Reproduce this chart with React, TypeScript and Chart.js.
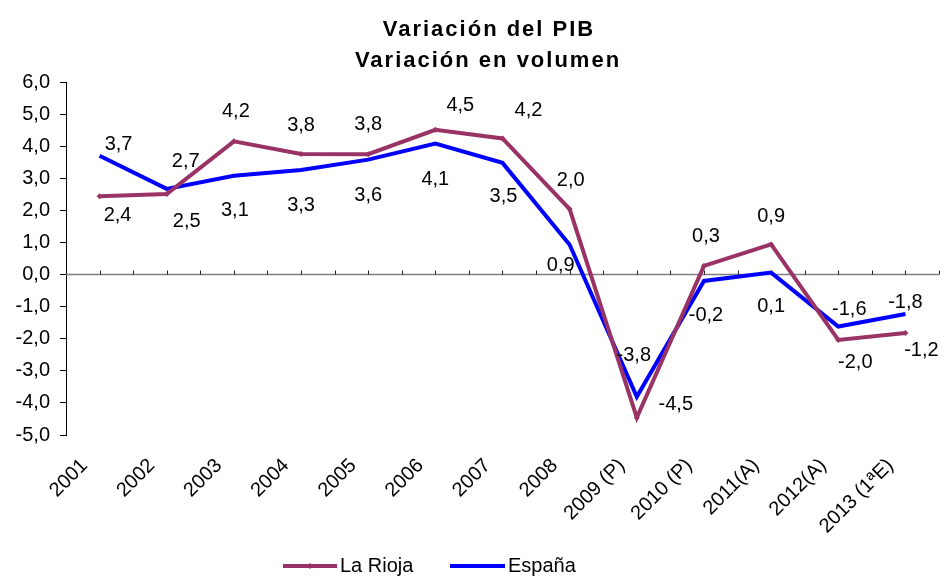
import React, { useEffect, useRef } from 'react';
import { Chart, registerables } from 'chart.js';

Chart.register(...registerables);

const FONT = '"Liberation Sans", Arial, Helvetica, sans-serif';

const titleLines = ['Variación del PIB', 'Variación en volumen'];

const categories = [
  '2001', '2002', '2003', '2004', '2005', '2006', '2007', '2008',
  '2009 (P)', '2010 (P)', '2011(A)', '2012(A)', '2013 (1ªE)',
];

const seriesNames = ['La Rioja', 'España'];

const laRioja = [2.44, 2.51, 4.15, 3.76, 3.75, 4.51, 4.24, 2.04, -4.46, 0.27, 0.94, -2.04, -1.82];
const espana = [3.7, 2.67, 3.08, 3.26, 3.58, 4.08, 3.48, 0.93, -3.81, -0.2, 0.06, -1.62, -1.23];

const yMin = -5;
const yMax = 6;
const yStep = 1;

// label placement (pixel offsets from each point), layout only
const riojaLabelOffsets: [number, number][] = [
  [18, 19], [20, 27], [2, -30], [0, -28], [0, -30], [25, -24], [26, -28],
  [1, -29], [39, -13], [2, -29], [0, -28], [17, 22], [0, -30],
];
const espanaLabelOffsets: [number, number][] = [
  [19, -11], [19, -27], [1, 35], [0, 36], [0, 36], [0, 36], [1, 34],
  [-9, 21], [-3, -41], [2, 35], [0, 34], [11, -17], [16, 36],
];

const fmt = (v: number) => (Math.round(v * 10) / 10).toFixed(1).replace('.', ',');

const zeroAxisPlugin = {
  id: 'zeroAxis',
  beforeDatasetsDraw(chart: any) {
    const { ctx, chartArea, scales } = chart;
    const y0 = scales.y.getPixelForValue(0);
    ctx.save();
    ctx.strokeStyle = '#7f7f7f';
    ctx.lineWidth = 1.5;
    ctx.beginPath();
    ctx.moveTo(chartArea.left, y0);
    ctx.lineTo(chartArea.right, y0);
    ctx.stroke();
    const xs = scales.x;
    const half = (xs.getPixelForValue(1) - xs.getPixelForValue(0)) / 2;
    ctx.strokeStyle = '#222';
    ctx.lineWidth = 1;
    for (let k = 1; k <= categories.length * 2; k++) {
      const x = Math.round(chartArea.left + k * half) + 0.5;
      ctx.beginPath();
      ctx.moveTo(x, y0);
      ctx.lineTo(x, y0 - 4);
      ctx.stroke();
    }
    ctx.restore();
  },
};

const dataLabelPlugin = {
  id: 'dataLabels',
  afterDatasetsDraw(chart: any) {
    const { ctx } = chart;
    const offsets = [riojaLabelOffsets, espanaLabelOffsets];
    ctx.save();
    ctx.font = `20px ${FONT}`;
    ctx.fillStyle = '#000';
    ctx.textAlign = 'center';
    ctx.textBaseline = 'middle';
    chart.data.datasets.forEach((ds: any, di: number) => {
      const meta = chart.getDatasetMeta(di);
      meta.data.forEach((pt: any, i: number) => {
        const off = offsets[di][i];
        ctx.fillText(fmt(ds.data[i]), pt.x + off[0], pt.y + off[1]);
      });
    });
    ctx.restore();
  },
};

const titlePlugin = {
  id: 'customTitle',
  afterDraw(chart: any) {
    const { ctx } = chart;
    ctx.save();
    ctx.font = `bold 22px ${FONT}`;
    (ctx as any).letterSpacing = '2px';
    ctx.fillStyle = '#000';
    ctx.textAlign = 'center';
    ctx.textBaseline = 'alphabetic';
    ctx.fillText(titleLines[0], 489, 36);
    ctx.fillText(titleLines[1], 488, 67);
    ctx.restore();
  },
};

const legendPlugin = {
  id: 'customLegend',
  afterDraw(chart: any) {
    const { ctx } = chart;
    const items = [
      { x0: 283, x1: 337, tx: 340 },
      { x0: 450, x1: 505, tx: 508 },
    ];
    const cy = 566;
    ctx.save();
    chart.data.datasets.forEach((ds: any, i: number) => {
      const it = items[i];
      ctx.strokeStyle = ds.borderColor;
      ctx.lineWidth = 4;
      ctx.beginPath();
      ctx.moveTo(it.x0, cy);
      ctx.lineTo(it.x1, cy);
      ctx.stroke();
      if (ds.pointRadius > 0) {
        ctx.fillStyle = ds.borderColor;
        ctx.beginPath();
        const mx = (it.x0 + it.x1) / 2;
        ctx.moveTo(mx, cy - 3);
        ctx.lineTo(mx + 3, cy);
        ctx.lineTo(mx, cy + 3);
        ctx.lineTo(mx - 3, cy);
        ctx.closePath();
        ctx.fill();
      }
      ctx.fillStyle = '#000';
      ctx.font = `20px ${FONT}`;
      ctx.textAlign = 'left';
      ctx.textBaseline = 'middle';
      ctx.fillText(ds.label, it.tx, cy);
    });
    ctx.restore();
  },
};

export default function App() {
  const ref = useRef<HTMLCanvasElement | null>(null);

  useEffect(() => {
    if (!ref.current) return;
    Chart.defaults.font.family = FONT;
    const chart = new Chart(ref.current, {
      type: 'line',
      data: {
        labels: categories,
        datasets: [
          {
            label: seriesNames[0],
            data: laRioja,
            borderColor: '#993366',
            backgroundColor: '#993366',
            borderWidth: 4,
            pointRadius: 3,
            pointStyle: 'rectRot',
            pointBorderWidth: 0,
            tension: 0,
          },
          {
            label: seriesNames[1],
            data: espana,
            borderColor: '#0000ff',
            backgroundColor: '#0000ff',
            borderWidth: 4,
            pointRadius: 0,
            tension: 0,
          },
        ],
      },
      options: {
        animation: false,
        responsive: false,
        maintainAspectRatio: false,
        layout: { padding: { top: 82, right: 3, left: 0, bottom: 0 } },
        plugins: {
          legend: { display: false },
          title: { display: false },
          tooltip: { enabled: false },
        },
        scales: {
          x: {
            type: 'category',
            offset: true,
            grid: { display: false },
            border: { display: false },
            ticks: {
              autoSkip: false,
              minRotation: 45,
              maxRotation: 45,
              padding: 11,
              labelOffset: -15,
              color: '#000',
              font: { size: 20, family: FONT },
            },
            afterFit: (s: any) => {
              s.height = 141;
            },
          },
          y: {
            min: yMin,
            max: yMax,
            grid: {
              drawOnChartArea: false,
              drawTicks: true,
              tickLength: 6,
              color: '#000',
            },
            border: { display: true, color: '#000', width: 1 },
            ticks: {
              stepSize: yStep,
              padding: 10,
              color: '#000',
              font: { size: 20, family: FONT },
              callback: (v: any) => Number(v).toFixed(1).replace('.', ','),
            },
            afterFit: (s: any) => {
              s.width = 66;
            },
          },
        },
      },
      plugins: [zeroAxisPlugin, dataLabelPlugin, titlePlugin, legendPlugin],
    });
    return () => chart.destroy();
  }, []);

  return (
    <div style={{ position: 'fixed', left: 0, top: 0, width: 943, height: 576, background: '#fff' }}>
      <canvas ref={ref} width={943} height={576} style={{ width: 943, height: 576, display: 'block' }} />
    </div>
  );
}
